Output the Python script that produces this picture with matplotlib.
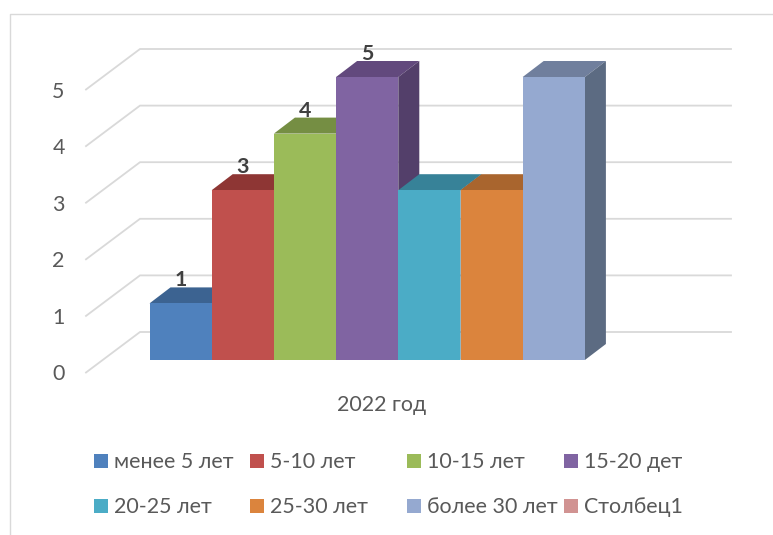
import matplotlib
matplotlib.use("Agg")
import matplotlib.pyplot as plt
from matplotlib.patches import Polygon, Rectangle
from matplotlib.lines import Line2D
from matplotlib.transforms import Affine2D

plt.rcParams['font.family'] = ['Lato', 'Open Sans', 'DejaVu Sans']

# Data
# ====
series = ["менее 5 лет", "5-10 лет", "10-15 лет", "15-20 дет",
          "20-25 лет", "25-30 лет", "более 30 лет", "Столбец1"]
values = [1, 3, 4, 5, 3, 3, 5, None]
shown_labels = [1, 3, 4, 5, None, None, None, None]
y_ticks = [0, 1, 2, 3, 4, 5]
category = "2022 год"

front_colors = ["#4f81bd", "#c0504d", "#9bbb59", "#8064a2",
                "#4bacc6", "#db843d", "#95a9d0", "#d19392"]
top_colors = ["#3c6391", "#8e3634", "#758e43", "#62497d",
              "#378298", "#a9652e", "#707f9d", "#9c6e6d"]
side_colors = ["#33547b", "#7a2e2c", "#647a39", "#533f6a",
               "#2f6f82", "#8f5627", "#5c6b82", "#856160"]

# Pixel sizes
W, H = 773, 535
X0, BAR_W = 149.5, 62.2
Y0, UNIT = 360.0, 56.6
DX, DY = 21 / BAR_W, 16 / UNIT          # bar depth in data units
WALL_X0, WALL_X1, WALL_X2 = 86, 140, 731
WALL_FRONT, WALL_BACK = 372.5, 332.0
GRID = "#d9d9d9"
TEXT = "#595959"
FONT = 15.4

fig = plt.figure(figsize=(W / 100, H / 100), dpi=100, facecolor="white")
ax = fig.add_axes([0, 0, 1, 1])
ax.set_xlim((0 - X0) / BAR_W, (W - X0) / BAR_W)
ax.set_ylim((Y0 - H) / UNIT, Y0 / UNIT)
ax.axis("off")

# helper: x / y pixels from top left
px = Affine2D().scale(1, -1).translate(0, H)

# Chart border (top and left only, the crop cuts the others)
fig.add_artist(Line2D([9.5, 9.5, W], [H, 14, 14], transform=px, color=GRID, lw=1.0))

# Walls
for v in y_ticks:
    front = (Y0 - WALL_FRONT) / UNIT + v
    back = (Y0 - WALL_BACK) / UNIT + v
    x = [(WALL_X0 - X0) / BAR_W, (WALL_X1 - X0) / BAR_W, (WALL_X2 - X0) / BAR_W]
    ax.plot(x, [front, back, back], color=GRID, lw=1.3, zorder=1, solid_joinstyle="miter")
    ax.text(58.5, WALL_FRONT + 2 - v * UNIT, str(v), transform=px, ha="center", va="center",
            fontsize=FONT, color=TEXT)

# Bars
z = 2
for i, v in enumerate(values):
    if v is None:
        continue
    ax.add_patch(Polygon([(i, v), (i + DX, v + DY), (i + 1 + DX, v + DY), (i + 1, v)],
                         facecolor=top_colors[i], edgecolor="none", zorder=z))
    ax.add_patch(Polygon([(i + 1, 0), (i + 1 + DX, DY), (i + 1 + DX, v + DY), (i + 1, v)],
                         facecolor=side_colors[i], edgecolor="none", zorder=z))
    ax.bar(i, v, width=1, align="edge", color=front_colors[i], zorder=z + 0.5)
    z += 1

# Data labels
for i, v in enumerate(shown_labels):
    if v is None:
        continue
    ax.annotate(str(v), (i + 0.5, v + DY), xytext=(0, 7), textcoords="offset pixels",
                ha="center", va="center", fontsize=FONT, fontweight="bold", color="#404040", zorder=50)

# Category label
ax.text(382, 405, category, transform=px, ha="center", va="center", fontsize=FONT, color=TEXT)

# Legend
swatch_x = [94, 250, 407, 564]
rows_y = [461, 506]
for i, name in enumerate(series):
    col, row = i % 4, i // 4
    ax.add_patch(Rectangle((swatch_x[col], rows_y[row] - 7), 14, 14, transform=px,
                           facecolor=front_colors[i], edgecolor="none", zorder=60))
    ax.text(swatch_x[col] + 20, rows_y[row] + 1, name, transform=px, ha="left", va="center",
            fontsize=FONT, color=TEXT, zorder=60)

fig.savefig("out.png", dpi=100)
